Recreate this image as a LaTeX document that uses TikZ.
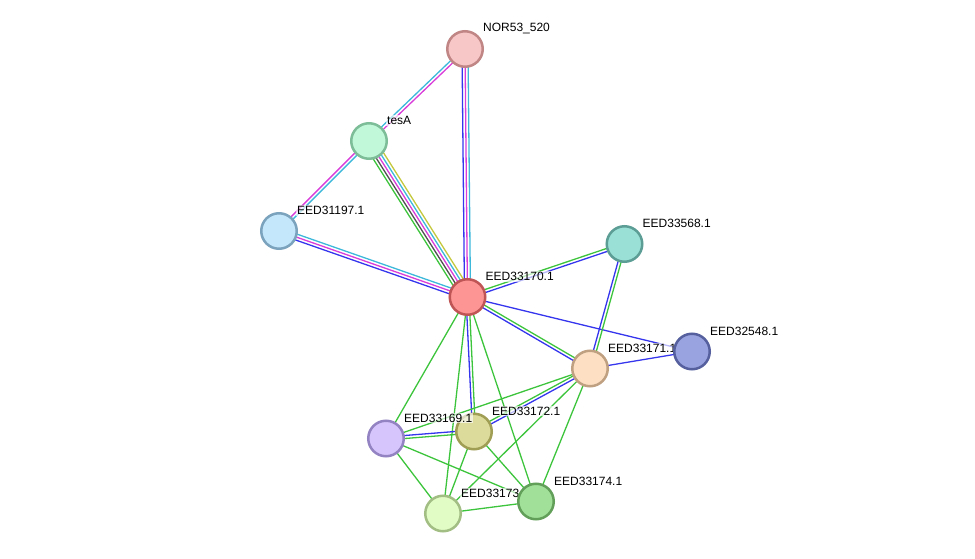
\documentclass[tikz,border=0pt]{standalone}
\usepackage{fontspec}
\setmainfont{Liberation Sans}
\usetikzlibrary{calc}

\pgfdeclarelayer{links}
\pgfsetlayers{links,main}

% link colours
\definecolor{lkgreen}{HTML}{3DC43D}
\definecolor{lkblue}{HTML}{3535EE}
\definecolor{lkpink}{HTML}{D93CD9}
\definecolor{lkcyan}{HTML}{3DB8DB}
\definecolor{lkyellow}{HTML}{C4C83D}
\definecolor{lkgray}{HTML}{505050}

% protein colours: fill / border
\definecolor{fnor}{HTML}{F7C6C6}\definecolor{bnor}{HTML}{C08585}
\definecolor{ftesa}{HTML}{C2F8DA}\definecolor{btesa}{HTML}{7DBE98}
\definecolor{f197}{HTML}{C4E7FC}\definecolor{b197}{HTML}{7BA3BE}
\definecolor{f170}{HTML}{FD9595}\definecolor{b170}{HTML}{C05555}
\definecolor{f568}{HTML}{9AE0D6}\definecolor{b568}{HTML}{5C9E95}
\definecolor{f171}{HTML}{FDE0C4}\definecolor{b171}{HTML}{BFA080}
\definecolor{f548}{HTML}{99A3DF}\definecolor{b548}{HTML}{56609F}
\definecolor{f172}{HTML}{DCDB9B}\definecolor{b172}{HTML}{A09D55}
\definecolor{f169}{HTML}{D6C4FC}\definecolor{b169}{HTML}{9383C2}
\definecolor{f173}{HTML}{E1FCC4}\definecolor{b173}{HTML}{A3BE85}
\definecolor{f174}{HTML}{A0E098}\definecolor{b174}{HTML}{62A05A}

\tikzset{
  prot/.style={circle, fill=f#1, draw=b#1, line width=2.5pt,
    minimum size=35.5pt, inner sep=0pt},
  lbl/.style={xshift=-2pt, yshift=20.5pt, inner sep=1pt,
    fill=white, fill opacity=0.65, text opacity=1,
    font=\fontsize{12}{14}\selectfont},
  link/.style={line width=1.3pt}
}

% parallel links between two nodes: offset/colour list
\newcommand{\strlink}[3]{%
  \foreach \o/\c in {#3}
    \draw[link, \c] ($(#1.center)!\o*3pt!90:(#2.center)$)
      -- ($(#2.center)!\o*3pt!-90:(#1.center)$);
}

\begin{document}
\begin{tikzpicture}[x=1pt, y=-1pt]
\useasboundingbox (0,0) rectangle (975,559);

% proteins
\node[prot=nor, label={[lbl]right:NOR53\_520}] (nor) at (465,49) {};
\node[prot=tesa, label={[lbl]right:tesA}] (tesa) at (369,141) {};
\node[prot=197, label={[lbl]right:EED31197.1}] (n197) at (279,231) {};
\node[prot=170, label={[lbl]right:EED33170.1}] (n170) at (467.5,297) {};
\node[prot=568, label={[lbl]right:EED33568.1}] (n568) at (624.5,244) {};
\node[prot=171, label={[lbl]right:EED33171.1}] (n171) at (590,368.5) {};
\node[prot=548, label={[lbl]right:EED32548.1}] (n548) at (692,351.5) {};
\node[prot=172, label={[lbl]right:EED33172.1}] (n172) at (474,431.5) {};
\node[prot=169, label={[lbl]right:EED33169.1}] (n169) at (386,438.5) {};
\node[prot=173, label={[lbl]right:EED33173}] (n173) at (443,513.5) {};
\node[prot=174, label={[lbl]right:EED33174.1}] (n174) at (536,501.5) {};

% links
\begin{pgfonlayer}{links}
\strlink{nor}{tesa}{-0.5/lkcyan, 0.5/lkpink}
\strlink{nor}{n170}{-1/lkblue, 0/lkpink, 1/lkcyan}
\strlink{tesa}{n197}{-0.5/lkpink, 0.5/lkcyan}
\strlink{tesa}{n170}{-2/lkgreen, -1/lkgray, 0/lkpink, 1/lkcyan, 2/lkyellow}
\strlink{n197}{n170}{-1/lkblue, 0/lkpink, 1/lkcyan}
\strlink{n170}{n568}{-0.5/lkblue, 0.5/lkgreen}
\strlink{n170}{n548}{0/lkblue}
\strlink{n170}{n171}{-0.5/lkblue, 0.5/lkgreen}
\strlink{n170}{n172}{-0.5/lkblue, 0.5/lkgreen}
\strlink{n170}{n169}{0/lkgreen}
\strlink{n170}{n173}{0/lkgreen}
\strlink{n170}{n174}{0/lkgreen}
\strlink{n568}{n171}{-0.5/lkblue, 0.5/lkgreen}
\strlink{n171}{n548}{0/lkblue}
\strlink{n171}{n172}{-0.5/lkgreen, 0.5/lkblue}
\strlink{n171}{n169}{0/lkgreen}
\strlink{n171}{n173}{0/lkgreen}
\strlink{n171}{n174}{0/lkgreen}
\strlink{n169}{n172}{-0.5/lkgreen, 0.5/lkblue}
\strlink{n169}{n173}{0/lkgreen}
\strlink{n169}{n174}{0/lkgreen}
\strlink{n172}{n173}{0/lkgreen}
\strlink{n172}{n174}{0/lkgreen}
\strlink{n173}{n174}{0/lkgreen}
\end{pgfonlayer}

\end{tikzpicture}
\end{document}
